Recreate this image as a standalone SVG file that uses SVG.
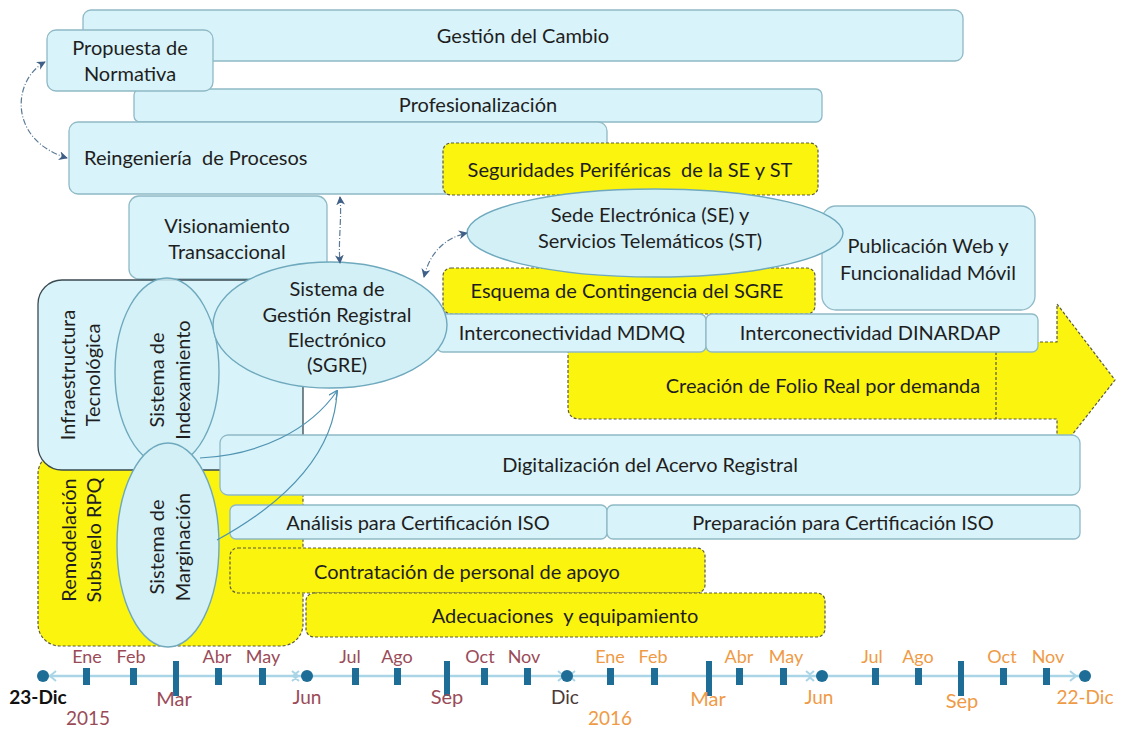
<svg xmlns="http://www.w3.org/2000/svg" width="1123" height="729" viewBox="0 0 1123 729">
<style>
.b{fill:#d8f3f9;stroke:#8fb9c6;stroke-width:1.3}
.y{fill:#fbf40e;stroke:#5a5a40;stroke-width:1.2;stroke-dasharray:3 2}
.e{fill:#d3f0f7;stroke:#6fa9bd;stroke-width:1.4}
.t{font-family:Lato,"Open Sans","Liberation Sans",sans-serif;font-size:20px;fill:#1e1e1e}
.m{text-anchor:middle}
.k{fill:#1d6d96}
.l1{font-family:Lato,"Open Sans","Liberation Sans",sans-serif;font-size:18px;fill:#9a4b58;text-anchor:middle}
.l2{font-family:Lato,"Open Sans","Liberation Sans",sans-serif;font-size:18px;fill:#ef9a45;text-anchor:middle}
.c{fill:none;stroke:#5c7a96;stroke-width:1.2;stroke-dasharray:6 2 1 2}
.c2{fill:none;stroke:#4f93b3;stroke-width:1.2}
</style>
<defs>
<marker id="ah" viewBox="0 0 10 10" refX="9" refY="5" markerWidth="9" markerHeight="9" orient="auto-start-reverse" markerUnits="userSpaceOnUse">
<path d="M0,0 L10,5 L0,10 L3,5 Z" fill="#3f5f86"/>
</marker>
<marker id="ah2" viewBox="0 0 10 10" refX="9" refY="5" markerWidth="9" markerHeight="9" orient="auto" markerUnits="userSpaceOnUse">
<path d="M0,0 L10,5 L0,10" fill="none" stroke="#4f93b3" stroke-width="1.5"/>
</marker>
</defs>
<rect width="1123" height="729" fill="#ffffff"/>

<g id="gestion-cambio"><rect class="b" x="83" y="10" width="880" height="51" rx="8"/><text class="t m" x="523" y="43">Gestión del Cambio</text></g>
<g id="profesionalizacion"><rect class="b" x="134" y="89" width="688" height="33" rx="6"/><text class="t m" x="478" y="112">Profesionalización</text></g>
<g id="propuesta-normativa"><rect class="b" x="47" y="30" width="166" height="61" rx="9"/><text class="t m" x="130" y="55">Propuesta de</text><text class="t m" x="130" y="81">Normativa</text></g>
<g id="reingenieria"><rect class="b" x="69" y="122" width="538" height="72" rx="9"/><text class="t" x="84" y="165">Reingeniería&#160; de Procesos</text></g>
<g id="seguridades"><rect class="y" x="443" y="143" width="375" height="52" rx="8"/><text class="t m" x="630" y="177">Seguridades Periféricas&#160; de la SE y ST</text></g>
<g id="visionamiento"><rect class="b" x="129" y="196" width="198" height="83" rx="10"/><text class="t m" x="227" y="233">Visionamiento</text><text class="t m" x="227" y="259">Transaccional</text></g>

<g id="remodelacion"><rect class="y" x="38" y="452" width="265" height="194" rx="22"/><text class="t m" transform="translate(76,540) rotate(-90)">Remodelación</text><text class="t m" transform="translate(101,540) rotate(-90)">Subsuelo RPQ</text></g>
<g id="infraestructura"><rect class="b" x="38" y="280" width="265" height="190" rx="24" style="stroke:#3a4a50"/><text class="t m" transform="translate(75,375) rotate(-90)">Infraestructura</text><text class="t m" transform="translate(100,375) rotate(-90)">Tecnológica</text></g>

<g id="big-arrow"><path class="y" d="M580,342 L1057,342 L1057,304 L1115,380 L1057,454 L1057,419 L580,419 Q568,419 568,407 L568,354 Q568,342 580,342 Z"/><line x1="996" y1="352" x2="996" y2="419" stroke="#5a5a40" stroke-width="1.2" stroke-dasharray="3 2"/><text class="t m" x="823" y="393">Creación de Folio Real por demanda</text></g>
<g id="esquema"><rect class="y" x="443" y="268" width="372" height="46" rx="8"/><text class="t m" x="627" y="298">Esquema de Contingencia del SGRE</text></g>
<g id="mdmq"><rect class="b" x="437" y="314" width="269" height="38" rx="6"/><text class="t m" x="572" y="340">Interconectividad MDMQ</text></g>
<g id="dinardap"><rect class="b" x="706" y="314" width="332" height="38" rx="6"/><text class="t m" x="870" y="340">Interconectividad DINARDAP</text></g>
<g id="publicacion"><rect class="b" x="822" y="206" width="213" height="104" rx="14"/><text class="t m" x="928" y="253">Publicación Web y</text><text class="t m" x="928" y="280">Funcionalidad Móvil</text></g>
<g id="sede"><ellipse class="e" cx="655" cy="233" rx="188" ry="44"/><text class="t m" x="650" y="222">Sede Electrónica (SE) y</text><text class="t m" x="650" y="248">Servicios Telemáticos (ST)</text></g>

<g id="indexamiento"><ellipse class="e" cx="167" cy="372" rx="52" ry="94" style="fill-opacity:0.85"/><text class="t m" transform="translate(164,380) rotate(-90)">Sistema de</text><text class="t m" transform="translate(190,380) rotate(-90)">Indexamiento</text></g>
<g id="sgre"><ellipse class="e" cx="330" cy="325" rx="117" ry="63"/><text class="t m" x="337" y="296">Sistema de</text><text class="t m" x="337" y="322">Gestión Registral</text><text class="t m" x="337" y="347">Electrónico</text><text class="t m" x="337" y="372">(SGRE)</text></g>
<g id="digitalizacion"><rect class="b" x="220" y="435" width="860" height="60" rx="8"/><text class="t m" x="650" y="472">Digitalización del Acervo Registral</text></g>
<g id="analisis"><rect class="b" x="230" y="505" width="377" height="34" rx="6"/><text class="t m" x="418" y="530">Análisis para Certificación ISO</text></g>
<g id="preparacion"><rect class="b" x="607" y="505" width="473" height="34" rx="6"/><text class="t m" x="843" y="530">Preparación para Certificación ISO</text></g>
<g id="contratacion"><rect class="y" x="230" y="548" width="475" height="45" rx="8"/><text class="t m" x="467" y="579">Contratación de personal de apoyo</text></g>
<g id="adecuaciones"><rect class="y" x="306" y="593" width="519" height="44" rx="8"/><text class="t m" x="565" y="623">Adecuaciones&#160; y equipamiento</text></g>
<g id="marginacion"><ellipse class="e" cx="168" cy="545" rx="51" ry="102"/><text class="t m" transform="translate(164,547) rotate(-90)">Sistema de</text><text class="t m" transform="translate(190,547) rotate(-90)">Marginación</text></g>

<g id="connectors">
<path class="c" d="M45,62 C12,80 8,140 67,158" marker-start="url(#ah)" marker-end="url(#ah)"/>
<path class="c" d="M340,197 C342,220 338,240 340,263" marker-start="url(#ah)" marker-end="url(#ah)"/>
<path class="c" d="M424,277 C430,252 445,238 467,233" marker-start="url(#ah)" marker-end="url(#ah)"/>
<path class="c2" d="M200,458 C260,455 310,430 337,391" marker-end="url(#ah2)"/>
<path class="c2" d="M217,540 C290,500 335,450 337,391"/>
</g>

<g id="timeline">
<line x1="43" y1="676" x2="1085" y2="676" stroke="#a9d5e6" stroke-width="2.5"/>
<path d="M56,671 L50,676 L56,681 M292,671 L298,676 L292,681 M299,671 L293,676 L299,681 M558,671 L564,676 L558,681 M575,671 L569,676 L575,681 M806,671 L812,676 L806,681 M814,671 L808,676 L814,681 M1070,671 L1076,676 L1070,681" fill="none" stroke="#a9d5e6" stroke-width="2"/>
<circle class="k" cx="43" cy="676" r="6"/><circle class="k" cx="307" cy="676" r="6"/><circle class="k" cx="567" cy="676" r="6"/><circle class="k" cx="822" cy="676" r="6"/><circle class="k" cx="1085" cy="676" r="6"/>
<rect class="k" x="83" y="668" width="7" height="17"/><rect class="k" x="130" y="668" width="7" height="17"/><rect class="k" x="173" y="661" width="6" height="35"/><rect class="k" x="215" y="668" width="7" height="17"/><rect class="k" x="259" y="668" width="7" height="17"/>
<rect class="k" x="352" y="668" width="7" height="17"/><rect class="k" x="394" y="668" width="7" height="17"/><rect class="k" x="444" y="661" width="6" height="35"/><rect class="k" x="481" y="668" width="7" height="17"/><rect class="k" x="524" y="668" width="7" height="17"/>
<rect class="k" x="607" y="668" width="7" height="17"/><rect class="k" x="651" y="668" width="7" height="17"/><rect class="k" x="706" y="661" width="6" height="35"/><rect class="k" x="736" y="668" width="7" height="17"/><rect class="k" x="780" y="668" width="7" height="17"/>
<rect class="k" x="872" y="668" width="7" height="17"/><rect class="k" x="915" y="668" width="7" height="17"/><rect class="k" x="958" y="661" width="6" height="35"/><rect class="k" x="1000" y="668" width="7" height="17"/><rect class="k" x="1043" y="668" width="7" height="17"/>
<text class="l1" x="87" y="663">Ene</text><text class="l1" x="131" y="663">Feb</text><text class="l1" x="217" y="663">Abr</text><text class="l1" x="263" y="663">May</text><text class="l1" x="350" y="663">Jul</text><text class="l1" x="397" y="663">Ago</text><text class="l1" x="480" y="663">Oct</text><text class="l1" x="524" y="663">Nov</text>
<text class="l1" x="174" y="706" style="font-size:20px">Mar</text><text class="l1" x="307" y="704" style="font-size:19px">Jun</text><text class="l1" x="447" y="704" style="font-size:20px">Sep</text><text class="l1" x="565" y="704" style="font-size:19px;fill:#4a3a3a">Dic</text>
<text x="38" y="704" style="font-family:Lato,'Open Sans','Liberation Sans',sans-serif;font-size:19px;font-weight:bold;fill:#111;text-anchor:middle">23-Dic</text>
<text class="l1" x="88" y="725" style="font-size:19px">2015</text>
<text class="l2" x="610" y="663">Ene</text><text class="l2" x="653" y="663">Feb</text><text class="l2" x="739" y="663">Abr</text><text class="l2" x="786" y="663">May</text><text class="l2" x="872" y="663">Jul</text><text class="l2" x="918" y="663">Ago</text><text class="l2" x="1002" y="663">Oct</text><text class="l2" x="1048" y="663">Nov</text>
<text class="l2" x="708" y="706" style="font-size:20px">Mar</text><text class="l2" x="819" y="704" style="font-size:19px">Jun</text><text class="l2" x="962" y="708" style="font-size:20px">Sep</text><text class="l2" x="1085" y="704" style="font-size:19px">22-Dic</text>
<text class="l2" x="610" y="725" style="font-size:19px">2016</text>
</g>
</svg>
